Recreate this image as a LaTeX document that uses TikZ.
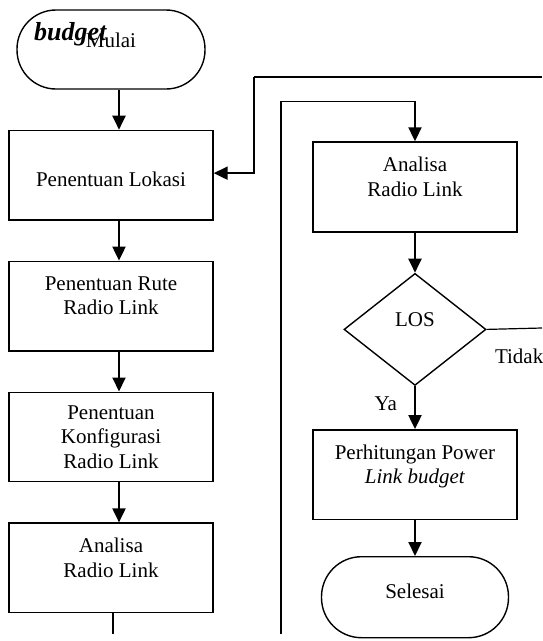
\documentclass[tikz,border=0pt]{standalone}
\usepackage{fontspec}
\setmainfont{Liberation Serif}
\usetikzlibrary{shapes.geometric,arrows.meta,positioning}

\begin{document}
\begin{tikzpicture}[
    x=1pt, y=-1pt,
    font=\fontsize{21}{24.5}\selectfont,
    box/.style={rectangle, draw, line width=1.4pt, minimum width=204pt, minimum height=89.5pt, align=center, inner sep=0pt},
    term/.style={rectangle, draw, line width=1.4pt, rounded corners=39pt, minimum width=188pt, minimum height=79pt, inner sep=0pt},
    decision/.style={diamond, draw, line width=1.4pt, minimum width=142pt, minimum height=112pt, inner sep=0pt},
    arrow/.style={-{Triangle[length=14pt,width=13pt]}, line width=2pt},
    link/.style={line width=1.3pt},
    tag/.style={inner sep=0pt}
]
\useasboundingbox (0,0) rectangle (542,641);

% left column
\node[term, text depth=18pt] (mulai) at (111,49.5) {Mulai};
\node[tag, anchor=base west, font=\fontsize{26}{30}\selectfont\bfseries\itshape] (budget) at (34,40) {budget};
\node[box, below=40pt of mulai, text height=22pt] (lokasi) {Penentuan Lokasi};
\node[box, below=40pt of lokasi] (rute) {Penentuan Rute\\Radio Link\\[-4pt]\mbox{}};
\node[box, below=40pt of rute] (konfig) {Penentuan\\Konfigurasi\\Radio Link};
\node[box, below=40pt of konfig] (analisa) {Analisa\\Radio Link\\[-4pt]\mbox{}};

% right column
\node[box, minimum height=90pt] (analisaR) at (415,187) {Analisa\\Radio Link\\[-4pt]\mbox{}};
\node[decision, below=40pt of analisaR, text depth=20pt] (los) {LOS};
\node[box, below=43pt of los] (hitung) {Perhitungan Power\\\textit{Link budget}\\[-4pt]\mbox{}};
\node[term, minimum width=187pt, minimum height=81pt, rounded corners=40pt, below=36pt of hitung, text depth=12pt] (selesai) {Selesai};

% free ends of the loops
\coordinate (outA) at (113,634);
\coordinate (loopA) at (542,77);
\coordinate (bendA) at (254,77);
\coordinate (loopB) at (281,634);
\coordinate[above=40pt of analisaR] (bendB);
\coordinate (tidakEnd) at (542,328);

\draw[arrow] ([xshift=8pt]mulai.south) -- ([xshift=8pt]lokasi.north);
\draw[arrow] ([xshift=8pt]lokasi.south) -- ([xshift=8pt]rute.north);
\draw[arrow] ([xshift=8pt]rute.south) -- ([xshift=8pt]konfig.north);
\draw[arrow] ([xshift=8pt]konfig.south) -- ([xshift=8pt]analisa.north);
\draw[line width=2pt] ([xshift=2pt]analisa.south) -- (outA);

\draw[link] (loopA) -- (bendA);
\draw[arrow] (bendA) |- ([yshift=2pt]lokasi.east);
\draw[link] (loopB) |- (bendB);
\draw[arrow] (bendB) -- (analisaR);

\draw[arrow] (analisaR) -- (los);
\draw[arrow] (los) -- node[tag, left=17pt, pos=0.4] (ya) {Ya} (hitung);
\draw[line width=1.2pt] (los.east) -- node[tag, pos=0.14, anchor=west, yshift=-27pt] (tidak) {Tidak} (tidakEnd);
\draw[arrow] (hitung) -- (selesai);
\end{tikzpicture}
\end{document}
